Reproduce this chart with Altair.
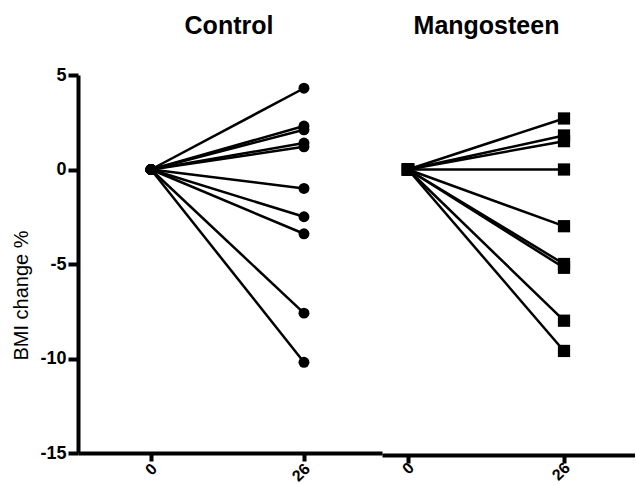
import altair as alt
import pandas as pd

weeks = [0, 26]
control_26 = [4.3, 2.3, 2.1, 1.4, 1.2, -1.0, -2.5, -3.4, -7.6, -10.2]
mango_26 = [2.7, 1.8, 1.5, 0.0, -3.0, -5.0, -5.2, -8.0, -9.6]
y_ticks = [-15, -10, -5, 0, 5]

def long(vals):
    rows = []
    for i, v in enumerate(vals):
        rows.append({"id": i, "week": weeks[0], "bmi": 0.0})
        rows.append({"id": i, "week": weeks[1], "bmi": v})
    return pd.DataFrame(rows)

ctrl = long(control_26)
mang = long(mango_26)

FONT = "Liberation Sans"
H = 378

def panel(df, shape, size, xdom, width, title, title_dx, title_off, show_y, xoffset, lpad):
    x = alt.X("week:Q", scale=alt.Scale(domain=xdom, nice=False, zero=False),
              axis=alt.Axis(values=weeks, title=None, labelAngle=315, grid=False,
                            domainWidth=4, domainColor="black", tickWidth=4, tickSize=8,
                            tickColor="black", labelFont=FONT, labelFontWeight="bold",
                            labelFontSize=16, labelColor="black", offset=xoffset,
                            labelAlign="right", labelBaseline="middle",
                            labelPadding=lpad, labelOffset=3, labelExpr="'' + datum.value"))
    if show_y:
        yaxis = alt.Axis(values=y_ticks, title="BMI change %", grid=False, domainWidth=4,
                         domainColor="black", tickWidth=4, tickSize=10, tickColor="black",
                         labelFont=FONT, labelFontWeight="bold", labelFontSize=18,
                         labelColor="black", titleFont=FONT, titleFontSize=20,
                         titleFontWeight="normal", titleColor="black", titleY=220,
                         labelPadding=2, titlePadding=8, labelExpr="'' + datum.value")
    else:
        yaxis = None
    y = alt.Y("bmi:Q", scale=alt.Scale(domain=[-15, 5], nice=False), axis=yaxis)
    base = alt.Chart(df)
    lines = base.mark_line(color="black", strokeWidth=2.5).encode(x=x, y=y, detail="id:N")
    pts = base.mark_point(filled=True, shape=shape, size=size, color="black", opacity=1).encode(x=x, y=y)
    return alt.layer(lines, pts).properties(
        width=width, height=H,
        title=alt.TitleParams(title, fontSize=25, fontWeight="bold", font=FONT,
                              color="black", anchor="middle", dx=title_dx, offset=title_off),
    )

p1 = panel(ctrl, "circle", 120, [-12.4, 39.26], 304, "Control", -1, 27, True, 0, 5)
p2 = panel(mang, "square", 150, [-4.33, 37.83], 253, "Mangosteen", -22, 36, False, 2, 2)

chart = alt.hconcat(p1, p2, spacing=0).resolve_scale(y="independent", x="independent").configure_view(
    stroke=None).configure_axis(labelFontWeight="bold").properties(
    padding={"left": 11, "top": 14, "right": 0, "bottom": 0}, background="white")

chart.save("out.html", embed_options={"renderer": "svg", "actions": False})
